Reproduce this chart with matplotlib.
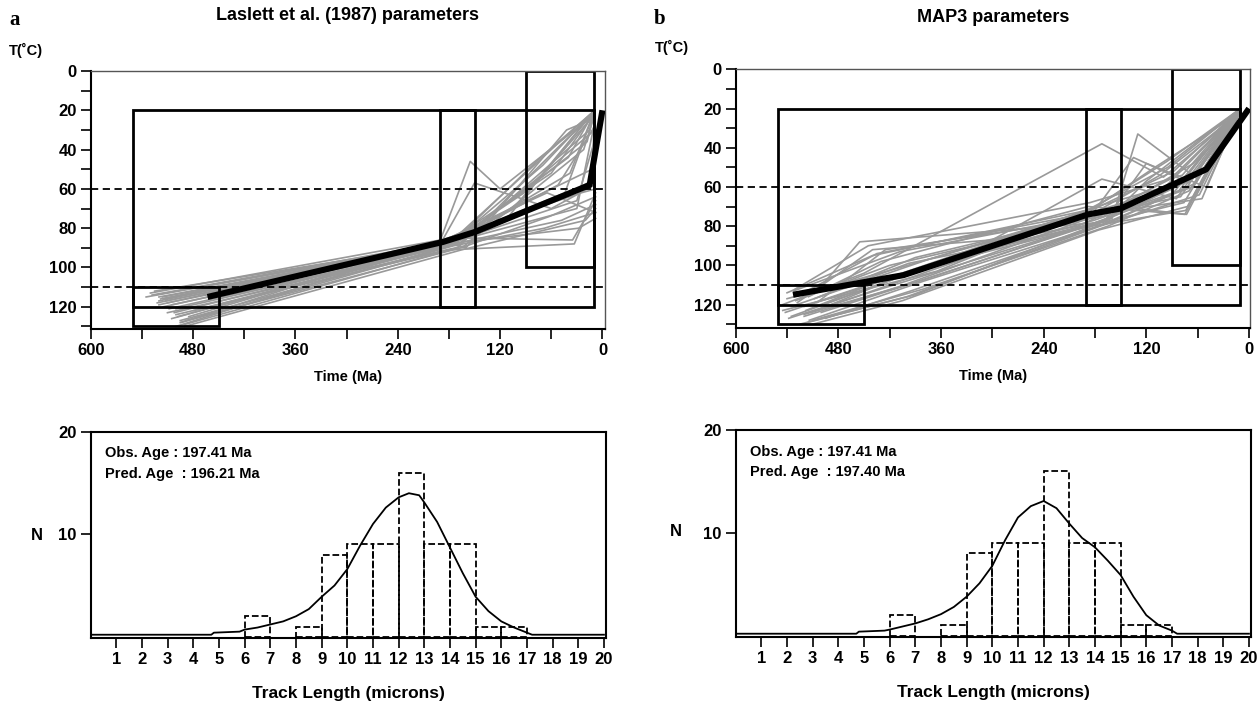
import matplotlib
matplotlib.use('Agg')
import matplotlib.pyplot as plt
from matplotlib.patches import Rectangle
from matplotlib.ticker import MultipleLocator

plt.rcParams['font.family'] = ['Liberation Sans', 'DejaVu Sans']
plt.rcParams['font.weight'] = 'bold'

# constraint boxes: (older Ma, younger Ma, top T, bottom T)
boxes = [(550, 10, 20, 120), (550, 450, 110, 130), (190, 150, 20, 120), (90, 10, 0, 100)]
iso_lines = [60, 110]

# best-fit paths
best_a_t = [463, 187, 150, 15, 0]
best_a_T = [115, 87, 82, 58, 20]
best_b_t = [533, 404, 188, 150, 50, 0]
best_b_T = [115, 105, 74, 71, 51, 20]

# acceptable paths (time Ma, temperature C)
grey_a = [
    ([520, 185, 60, 9], [115, 88, 52, 21]),
    ([510, 180, 40, 9], [118, 89, 44, 20]),
    ([525, 175, 30, 9], [114, 87, 70, 26]),
    ([500, 170, 50, 9], [124, 90, 38, 21]),
    ([495, 188, 25, 8], [128, 86, 62, 60]),
    ([505, 160, 35, 8], [126, 85, 86, 66]),
    ([515, 178, 70, 9], [120, 88, 48, 20]),
    ([490, 165, 20, 8], [130, 91, 76, 70]),
    ([530, 190, 155, 120, 9], [113, 86, 46, 60, 22]),
    ([480, 183, 45, 9], [122, 89, 34, 20]),
    ([520, 176, 55, 9], [117, 86, 66, 55]),
    ([500, 168, 15, 9], [121, 88, 30, 20]),
    ([485, 190, 65, 8], [125, 87, 62, 72]),
    ([515, 182, 28, 8], [116, 88, 80, 75]),
    ([525, 170, 80, 9], [112, 87, 56, 30]),
    ([495, 186, 38, 9], [127, 90, 52, 20]),
    ([505, 174, 48, 8], [119, 88, 76, 68]),
    ([510, 162, 22, 9], [123, 89, 40, 22]),
    ([490, 179, 33, 8], [129, 91, 88, 62]),
    ([520, 184, 12, 9], [119, 86, 50, 20]),
    ([535, 190, 150, 60, 9], [115, 88, 57, 70, 58]),
    ([500, 170, 75, 9], [130, 85, 45, 20]),
    ([518, 187, 160, 42, 9], [116, 87, 90, 30, 24]),
    ([508, 181, 95, 18, 9], [121, 89, 62, 36, 20]),
    ([512, 177, 85, 9], [117, 87, 60, 20]),
    ([498, 185, 52, 9], [125, 89, 58, 28]),
    ([528, 172, 105, 9], [114, 86, 70, 22]),
    ([488, 166, 62, 8], [127, 90, 74, 64]),
    ([522, 189, 44, 9], [118, 88, 62, 20]),
    ([502, 171, 110, 9], [123, 87, 74, 20]),
    ([516, 183, 30, 9], [115, 88, 66, 35]),
    ([494, 175, 68, 8], [128, 89, 80, 72]),
]
grey_b = [
    ([530, 420, 185, 80, 10], [118, 100, 76, 58, 20]),
    ([520, 400, 175, 60, 10], [125, 110, 78, 52, 22]),
    ([540, 440, 190, 95, 10], [114, 95, 72, 50, 20]),
    ([510, 380, 165, 70, 10], [128, 112, 80, 62, 21]),
    ([500, 410, 180, 55, 10], [122, 106, 74, 66, 20]),
    ([545, 450, 172, 100, 10], [120, 104, 38, 55, 22]),
    ([525, 390, 160, 130, 60, 10], [130, 115, 76, 33, 56, 20]),
    ([515, 430, 188, 75, 10], [116, 98, 70, 74, 21]),
    ([535, 370, 178, 85, 10], [126, 100, 79, 60, 20]),
    ([505, 425, 170, 65, 10], [119, 92, 75, 48, 23]),
    ([495, 395, 182, 90, 10], [127, 113, 81, 64, 20]),
    ([530, 445, 186, 78, 10], [112, 90, 68, 54, 20]),
    ([520, 360, 168, 120, 50, 10], [121, 98, 77, 48, 60, 21]),
    ([510, 405, 176, 72, 10], [130, 118, 82, 70, 20]),
    ([540, 415, 192, 110, 10], [117, 102, 74, 50, 22]),
    ([500, 385, 164, 120, 10], [124, 108, 76, 57, 20]),
    ([525, 435, 183, 68, 10], [115, 94, 73, 57, 20]),
    ([515, 400, 174, 58, 10], [129, 116, 80, 64, 21]),
    ([535, 375, 180, 88, 10], [121, 97, 71, 52, 20]),
    ([505, 455, 170, 76, 10], [113, 88, 78, 68, 20]),
    ([520, 410, 187, 135, 70, 10], [126, 111, 76, 45, 58, 22]),
    ([545, 365, 179, 96, 10], [123, 103, 70, 47, 20]),
    ([512, 250, 200, 150, 73, 10], [124, 84, 80, 70, 74, 21]),
    ([528, 440, 300, 172, 85, 10], [119, 92, 87, 56, 66, 20]),
    ([518, 420, 181, 82, 10], [123, 106, 77, 62, 20]),
    ([508, 390, 169, 92, 10], [117, 96, 73, 56, 21]),
    ([538, 430, 185, 66, 10], [127, 112, 79, 60, 20]),
    ([498, 372, 176, 104, 10], [120, 100, 72, 54, 22]),
    ([532, 408, 190, 80, 10], [113, 93, 75, 65, 20]),
    ([514, 380, 162, 62, 10], [128, 108, 78, 58, 20]),
    ([542, 446, 178, 98, 10], [124, 110, 70, 60, 21]),
    ([502, 398, 184, 74, 10], [116, 99, 80, 72, 20]),
]

# track length histogram (same observed data in both panels)
bin_left = [6, 8, 9, 10, 11, 12, 13, 14, 15, 16]
counts = [2, 1, 8, 9, 9, 16, 9, 9, 1, 1]

# predicted distributions
curve_a_x = [0, 4.7, 4.8, 5.8, 6, 6.5, 7, 7.5, 8, 8.5, 9, 9.5, 10, 10.5, 11, 11.5, 12, 12.4, 12.8, 13,
             13.5, 14, 14.5, 15, 15.5, 16, 16.5, 17, 17.2, 20]
curve_a_N = [0.2, 0.2, 0.4, 0.5, 0.7, 0.9, 1.2, 1.5, 2.0, 2.7, 3.9, 5.0, 6.6, 8.9, 11.0, 12.6, 13.6, 14.0,
             13.8, 13.1, 11.2, 8.7, 6.2, 3.9, 2.5, 1.5, 0.9, 0.4, 0.2, 0.2]
curve_b_x = [0, 4.7, 4.8, 5.8, 6, 6.5, 7, 7.5, 8, 8.5, 9, 9.5, 10, 10.5, 11, 11.5, 12, 12.5, 13, 13.5,
             14, 14.5, 15, 15.5, 16, 16.5, 17, 17.2, 20]
curve_b_N = [0.2, 0.2, 0.4, 0.5, 0.6, 0.9, 1.2, 1.6, 2.1, 2.8, 3.8, 5.1, 6.8, 9.3, 11.5, 12.6, 13.1, 12.4,
             10.9, 9.5, 8.6, 7.3, 5.9, 3.8, 2.0, 1.0, 0.5, 0.2, 0.2]

obs_age = '197.41'
pred_a = '196.21'
pred_b = '197.40'

W, H = 1260, 702
fig = plt.figure(figsize=(W / 100, H / 100), dpi=100)


def fx(px):
    return px / W


def fy(py):
    return 1 - py / H


def style_axes(ax, frame_color):
    ax.spines['left'].set_linewidth(1.5)
    ax.spines['bottom'].set_linewidth(1.5)
    for s in ['top', 'right']:
        ax.spines[s].set_linewidth(1.0)
        ax.spines[s].set_color(frame_color)
    ax.tick_params(which='both', direction='out', length=7, width=1.2, labelsize=12, pad=3)


def history(ax, grey, bt, bT, xlim_right, ymax):
    for t, T in grey:
        ax.plot(t, T, color='#999999', lw=1.2, zorder=1)
    for old, young, top, bot in boxes:
        ax.add_patch(Rectangle((young, top), old - young, bot - top, fill=False,
                               edgecolor='black', lw=2.0, zorder=2))
    for T in iso_lines:
        ax.axhline(T, color='black', lw=1.3, dashes=[4, 2.5], zorder=2)
    ax.plot(bt, bT, color='black', lw=4.4, zorder=3, solid_capstyle='butt')
    ax.set_xlim(600, xlim_right)
    ax.set_ylim(ymax, 0)
    ax.xaxis.set_major_locator(MultipleLocator(120))
    ax.xaxis.set_minor_locator(MultipleLocator(60))
    ax.yaxis.set_major_locator(MultipleLocator(20))
    ax.yaxis.set_minor_locator(MultipleLocator(10))
    style_axes(ax, '#555555')
    ax.set_xlabel('Time (Ma)', fontsize=10.5, fontweight='bold', labelpad=9)


def track(ax, cx, cN, pred):
    ax.bar(bin_left, counts, width=1, align='edge', fill=False, edgecolor='black',
           linestyle='--', lw=1.3, zorder=2)
    ax.plot(cx, cN, color='black', lw=1.3, zorder=3)
    ax.set_xlim(0, 20.08)
    ax.set_ylim(-0.12, 20)
    ax.set_xticks(range(1, 21))
    ax.set_yticks([10, 20])
    style_axes(ax, 'black')
    ax.spines['top'].set_linewidth(1.5)
    ax.spines['right'].set_linewidth(1.5)
    ax.set_xlabel('Track Length (microns)', fontsize=12.5, fontweight='bold', labelpad=14)
    ax.text(0.027, 0.895, 'Obs. Age : ' + obs_age + ' Ma', transform=ax.transAxes,
            fontsize=10.5, fontweight='bold', va='center')
    ax.text(0.027, 0.795, 'Pred. Age  : ' + pred + ' Ma', transform=ax.transAxes,
            fontsize=10.5, fontweight='bold', va='center')


# top panels
ax1 = fig.add_axes([fx(90.7), fy(329), fx(605 - 90.7), fy(71) - fy(329)])
history(ax1, grey_a, best_a_t, best_a_T, -3, 131.3)
ax2 = fig.add_axes([fx(735.7), fy(327.7), fx(1250.3 - 735.7), fy(69.3) - fy(327.7)])
history(ax2, grey_b, best_b_t, best_b_T, -1.5, 131.8)

# bottom panels
ax3 = fig.add_axes([fx(90.7), fy(638), fx(606 - 90.7), fy(431.7) - fy(638)])
track(ax3, curve_a_x, curve_a_N, pred_a)
ax4 = fig.add_axes([fx(735.7), fy(637), fx(1251 - 735.7), fy(430) - fy(637)])
track(ax4, curve_b_x, curve_b_N, pred_b)

# titles and labels
fig.text(fx(348), fy(15), 'Laslett et al. (1987) parameters', ha='center', va='center',
         fontsize=13, fontweight='bold')
fig.text(fx(993), fy(17), 'MAP3 parameters', ha='center', va='center',
         fontsize=13, fontweight='bold')
fig.text(fx(9), fy(20), 'a', fontsize=15, fontweight='bold', family='Liberation Serif', va='center')
fig.text(fx(654), fy(19), 'b', fontsize=15, fontweight='bold', family='Liberation Serif', va='center')
fig.text(fx(9), fy(50), 'T(˚C)', fontsize=10.5, fontweight='bold', va='center')
fig.text(fx(655), fy(47), 'T(˚C)', fontsize=10.5, fontweight='bold', va='center')
fig.text(fx(37), fy(536), 'N', fontsize=12, fontweight='bold', ha='center', va='center')
fig.text(fx(676), fy(532), 'N', fontsize=12, fontweight='bold', ha='center', va='center')

plt.savefig('out.png', dpi=100)
